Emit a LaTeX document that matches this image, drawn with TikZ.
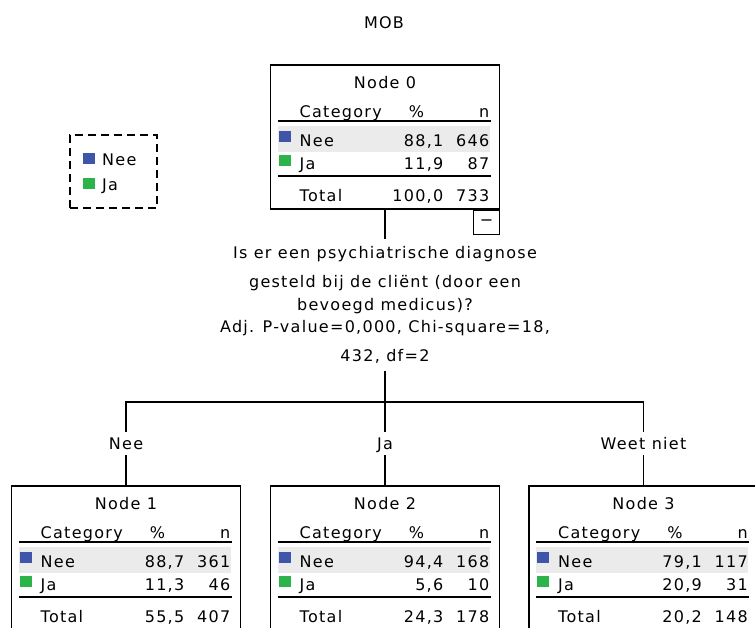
\documentclass[tikz,border=0pt]{standalone}
\usepackage{fontspec}
\setmainfont[LetterSpace=8]{DejaVu Sans}
\usetikzlibrary{positioning}
\definecolor{neeblue}{HTML}{3E55A9}
\definecolor{jagreen}{HTML}{2CB34A}
\definecolor{rowgrey}{HTML}{EBEBEB}

\tikzset{
  every node/.style={font=\fontsize{16}{26}\selectfont, inner sep=0pt},
  boxframe/.style={draw, line width=1.2pt, minimum width=229pt, minimum height=144pt},
  rule/.style={line width=1.6pt},
  link/.style={line width=1.2pt},
  branch/.style={text height=11.5pt, text depth=0pt, inner ysep=5.75pt, inner xsep=1pt}
}

% one node of the tree: #1 number, #2/#3 top left corner, #4-#9 Nee, Ja, Total (% and n)
\newcommand\catbox[9]{%
  \begin{scope}[shift={(#2,#3)}]
    \fill[rowgrey] (7,61) rectangle (219,87);
    \node[boxframe] (n#1) at (114.5,72) {};
    \draw[rule] (7,56) -- (220,56);
    \draw[rule] (7,111) -- (220,111);
    \fill[neeblue] (8,66) rectangle (20,77);
    \fill[jagreen] (8,90) rectangle (20,101);
    \node[anchor=base] (n#1title) at (114.5,23) {Node #1};
    \node[anchor=base west] (n#1cat) at (29,52) {Category};
    \node[anchor=base] (n#1pct) at (146,52) {\%};
    \node[anchor=base east] (n#1n) at (219,52) {n};
    \node[anchor=base west] (n#1nee) at (29,81) {Nee};
    \node[anchor=base east] (n#1neep) at (173,81) {#4};
    \node[anchor=base east] (n#1neen) at (219,81) {#5};
    \node[anchor=base west] (n#1ja) at (29,104) {Ja};
    \node[anchor=base east] (n#1jap) at (173,104) {#6};
    \node[anchor=base east] (n#1jan) at (219,104) {#7};
    \node[anchor=base west] (n#1tot) at (29,136) {Total};
    \node[anchor=base east] (n#1totp) at (173,136) {#8};
    \node[anchor=base east] (n#1totn) at (219,136) {#9};
  \end{scope}}

\begin{document}
\begin{tikzpicture}[x=1pt,y=-1pt]
\useasboundingbox (0,0) rectangle (755,627);
\clip (0,0) rectangle (755,627);

\node (title) at (384,23) {MOB};

% legend
\node[draw, dash pattern=on 8pt off 5pt, line width=1.2pt, minimum width=87pt, minimum height=73pt] (legend) at (113.5,171.5) {};
\fill[neeblue] (83,153) rectangle (95,164);
\node[anchor=base west] (legnee) at (102,165) {Nee};
\fill[jagreen] (83,178) rectangle (95,189);
\node[anchor=base west] (legja) at (102,190) {Ja};

% the tree
\catbox{0}{270.5}{65}{88,1}{646}{11,9}{87}{100,0}{733}
\node[draw, line width=1.2pt, anchor=north east, minimum width=26pt, minimum height=24pt] (fold) at (n0.south east) {−};

\node[align=center, inner ysep=7.5pt] (split) at (385,305) {Is er een psychiatrische diagnose\\[3pt]
  gesteld bij de cliënt (door een\\[-3pt] bevoegd medicus)?\\[-4pt]
  Adj. P-value=0,000, Chi-square=18,\\[3pt] 432, df=2};
\coordinate (fork) at (385,402);

\node[branch] (l1) at (126,443.5) {Nee};
\node[branch] (l2) at (385,443.5) {Ja};
\node[branch] (l3) at (643.5,443.5) {Weet niet};

\catbox{1}{11.5}{486}{88,7}{361}{11,3}{46}{55,5}{407}
\catbox{2}{270.5}{486}{94,4}{168}{5,6}{10}{24,3}{178}
\catbox{3}{529}{486}{79,1}{117}{20,9}{31}{20,2}{148}

\draw[link] (n0.south) -- (split.north);
\draw[link] (split.south) -- (l2.north);
\draw[link] (l1.north) |- (fork) -| (l3.north);
\draw[link] (l1.south) -- (n1.north);
\draw[link] (l2.south) -- (n2.north);
\draw[link] (l3.south) -- (n3.north);
\end{tikzpicture}
\end{document}
